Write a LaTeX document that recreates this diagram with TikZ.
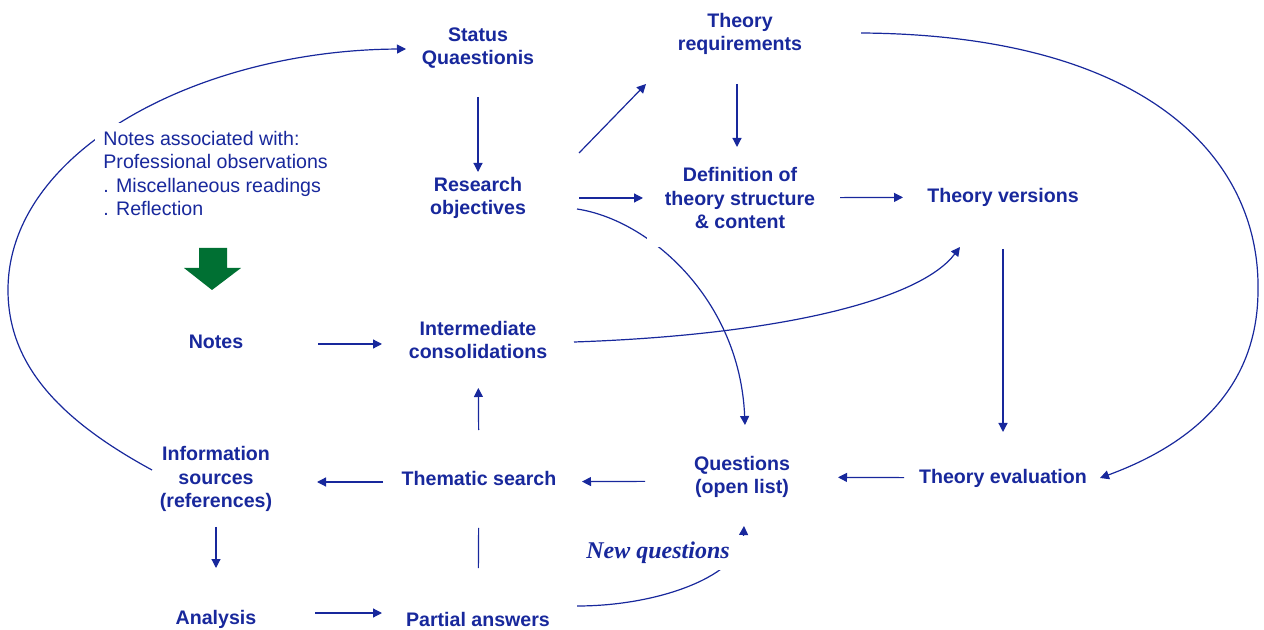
\documentclass[tikz,border=0pt]{standalone}
\usepackage{fontspec}
\setmainfont{Liberation Sans}
\newfontfamily\qfont{Liberation Serif}
\usetikzlibrary{arrows.meta,backgrounds}
\definecolor{ink}{RGB}{24,40,156}
\definecolor{leaf}{RGB}{0,112,51}

\begin{document}
\begin{tikzpicture}[x=0.5pt,y=-0.5pt,
		box/.style={text=ink, fill=white, align=center, inner sep=2pt, font=\fontsize{9.8}{11.7}\selectfont\bfseries},
		link/.style={draw=ink, line width=0.6pt, -{Triangle[length=4.5pt,width=4.5pt]}}]
	\useasboundingbox (0,0) rectangle (1264,630);
	% nodes
	\node[box] (status) at (478,48) {Status\\Quaestionis};
	\node[box] (treq) at (740,34) {Theory\\requirements};
	\node[box, text=ink, align=left, anchor=north west, inner sep=4pt, font=\fontsize{9.8}{11.7}\selectfont] (assoc) at (95,123)
		{Notes associated with:\\Professional observations\\. Miscellaneous readings\\. Reflection};
	\node[box] (resobj) at (478,198) {Research\\objectives};
	\node[box, inner sep=9pt] (defn) at (740,198) {Definition of\\theory structure\\\& content};
	\node[box] (tver) at (1003,197) {Theory versions};
	\node[box] (notes) at (216,342) {Notes};
	\node[box] (inter) at (478,340) {Intermediate\\consolidations};
	\node[box] (info) at (216,479) {Information\\sources\\(references)};
	\node[box] (thema) at (479,478) {Thematic search};
	\node[box] (quest) at (742,477) {Questions\\(open list)};
	\node[box] (teval) at (1003,478) {Theory evaluation};
	\node[box] (anal) at (216,619) {Analysis};
	\node[box] (partial) at (478,619) {Partial answers};
	\node[box, inner xsep=8pt, inner ysep=3pt, font=\qfont\bfseries\itshape\fontsize{12}{14}\selectfont] (newq) at (658,553) {New questions};
	% connectors
	\begin{scope}[on background layer]
		\draw[link, shorten <=24.5pt, shorten >=13pt] (status.center) -- (resobj.center);
		\draw[link, shorten <=25pt, shorten >=25.5pt] ([xshift=-1.5pt]treq.center) -- ([xshift=-1.5pt]defn.center);
		\draw[link] ([shift={(101,-45)}]resobj.center) -- ([shift={(-94,50)}]treq.center);
		\draw[link, shorten <=50.5pt, shorten >=48.5pt] (resobj.center) -- (defn.center);
		\draw[link, shorten <=50pt, shorten >=50pt] (defn.center) -- (tver.center);
		\draw[link, shorten <=26pt, shorten >=23pt] (tver.center) -- (teval.center);
		\draw[link, shorten <=51pt, shorten >=48pt] ([yshift=-1pt]notes.center) -- ([yshift=-2pt]inter.center);
		\draw[link, shorten <=49.5pt, shorten >=48pt] (teval.center) -- (quest.center);
		\draw[link, shorten <=48.5pt, shorten >=51.5pt] ([yshift=-2pt]quest.center) -- ([yshift=-2pt]thema.center);
		\draw[link, shorten <=48pt, shorten >=50.5pt] ([yshift=-2pt]thema.center) -- ([yshift=-1.5pt]info.center);
		\draw[link, shorten <=24pt, shorten >=24pt] (thema.center) -- (inter.center);
		\draw[draw=ink, line width=0.6pt, shorten <=25.5pt, shorten >=25pt] (partial.center) -- (thema.center);
		\draw[link, shorten <=24pt, shorten >=25.5pt] (info.center) -- (anal.center);
		\draw[link, shorten <=49.5pt, shorten >=48pt] ([yshift=3pt]anal.center) -- ([yshift=3pt]partial.center);
		% curved links
		\draw[link] ([shift={(-64,-9)}]info.center) .. controls (60,420) and (8,365) .. (8,290)
			.. controls (8,150) and (200,50) .. ([shift={(-72,1)}]status.center);
		\draw[link] ([shift={(121,-1)}]treq.center) .. controls (1150,35) and (1260,160) .. (1258,290)
			.. controls (1258,390) and (1190,445) .. ([shift={(97,0)}]teval.center);
		\draw[link] ([shift={(99,11)}]resobj.center) .. controls (650,220) and (740,300) .. ([shift={(3,-52)}]quest.center);
		\draw[link] ([shift={(96,2)}]inter.center) .. controls (780,335) and (920,300) .. ([shift={(-43,50)}]tver.center);
		\draw[link] ([shift={(99,-13)}]partial.center) .. controls (660,606) and (742,575) .. ([shift={(2,49)}]quest.center);
	\end{scope}
	% green block arrow
	\fill[leaf] (199,248) -- (227,248) -- (227,268) -- (241,268) -- (212,290) -- (184,268) -- (199,268) -- cycle;
\end{tikzpicture}
\end{document}
